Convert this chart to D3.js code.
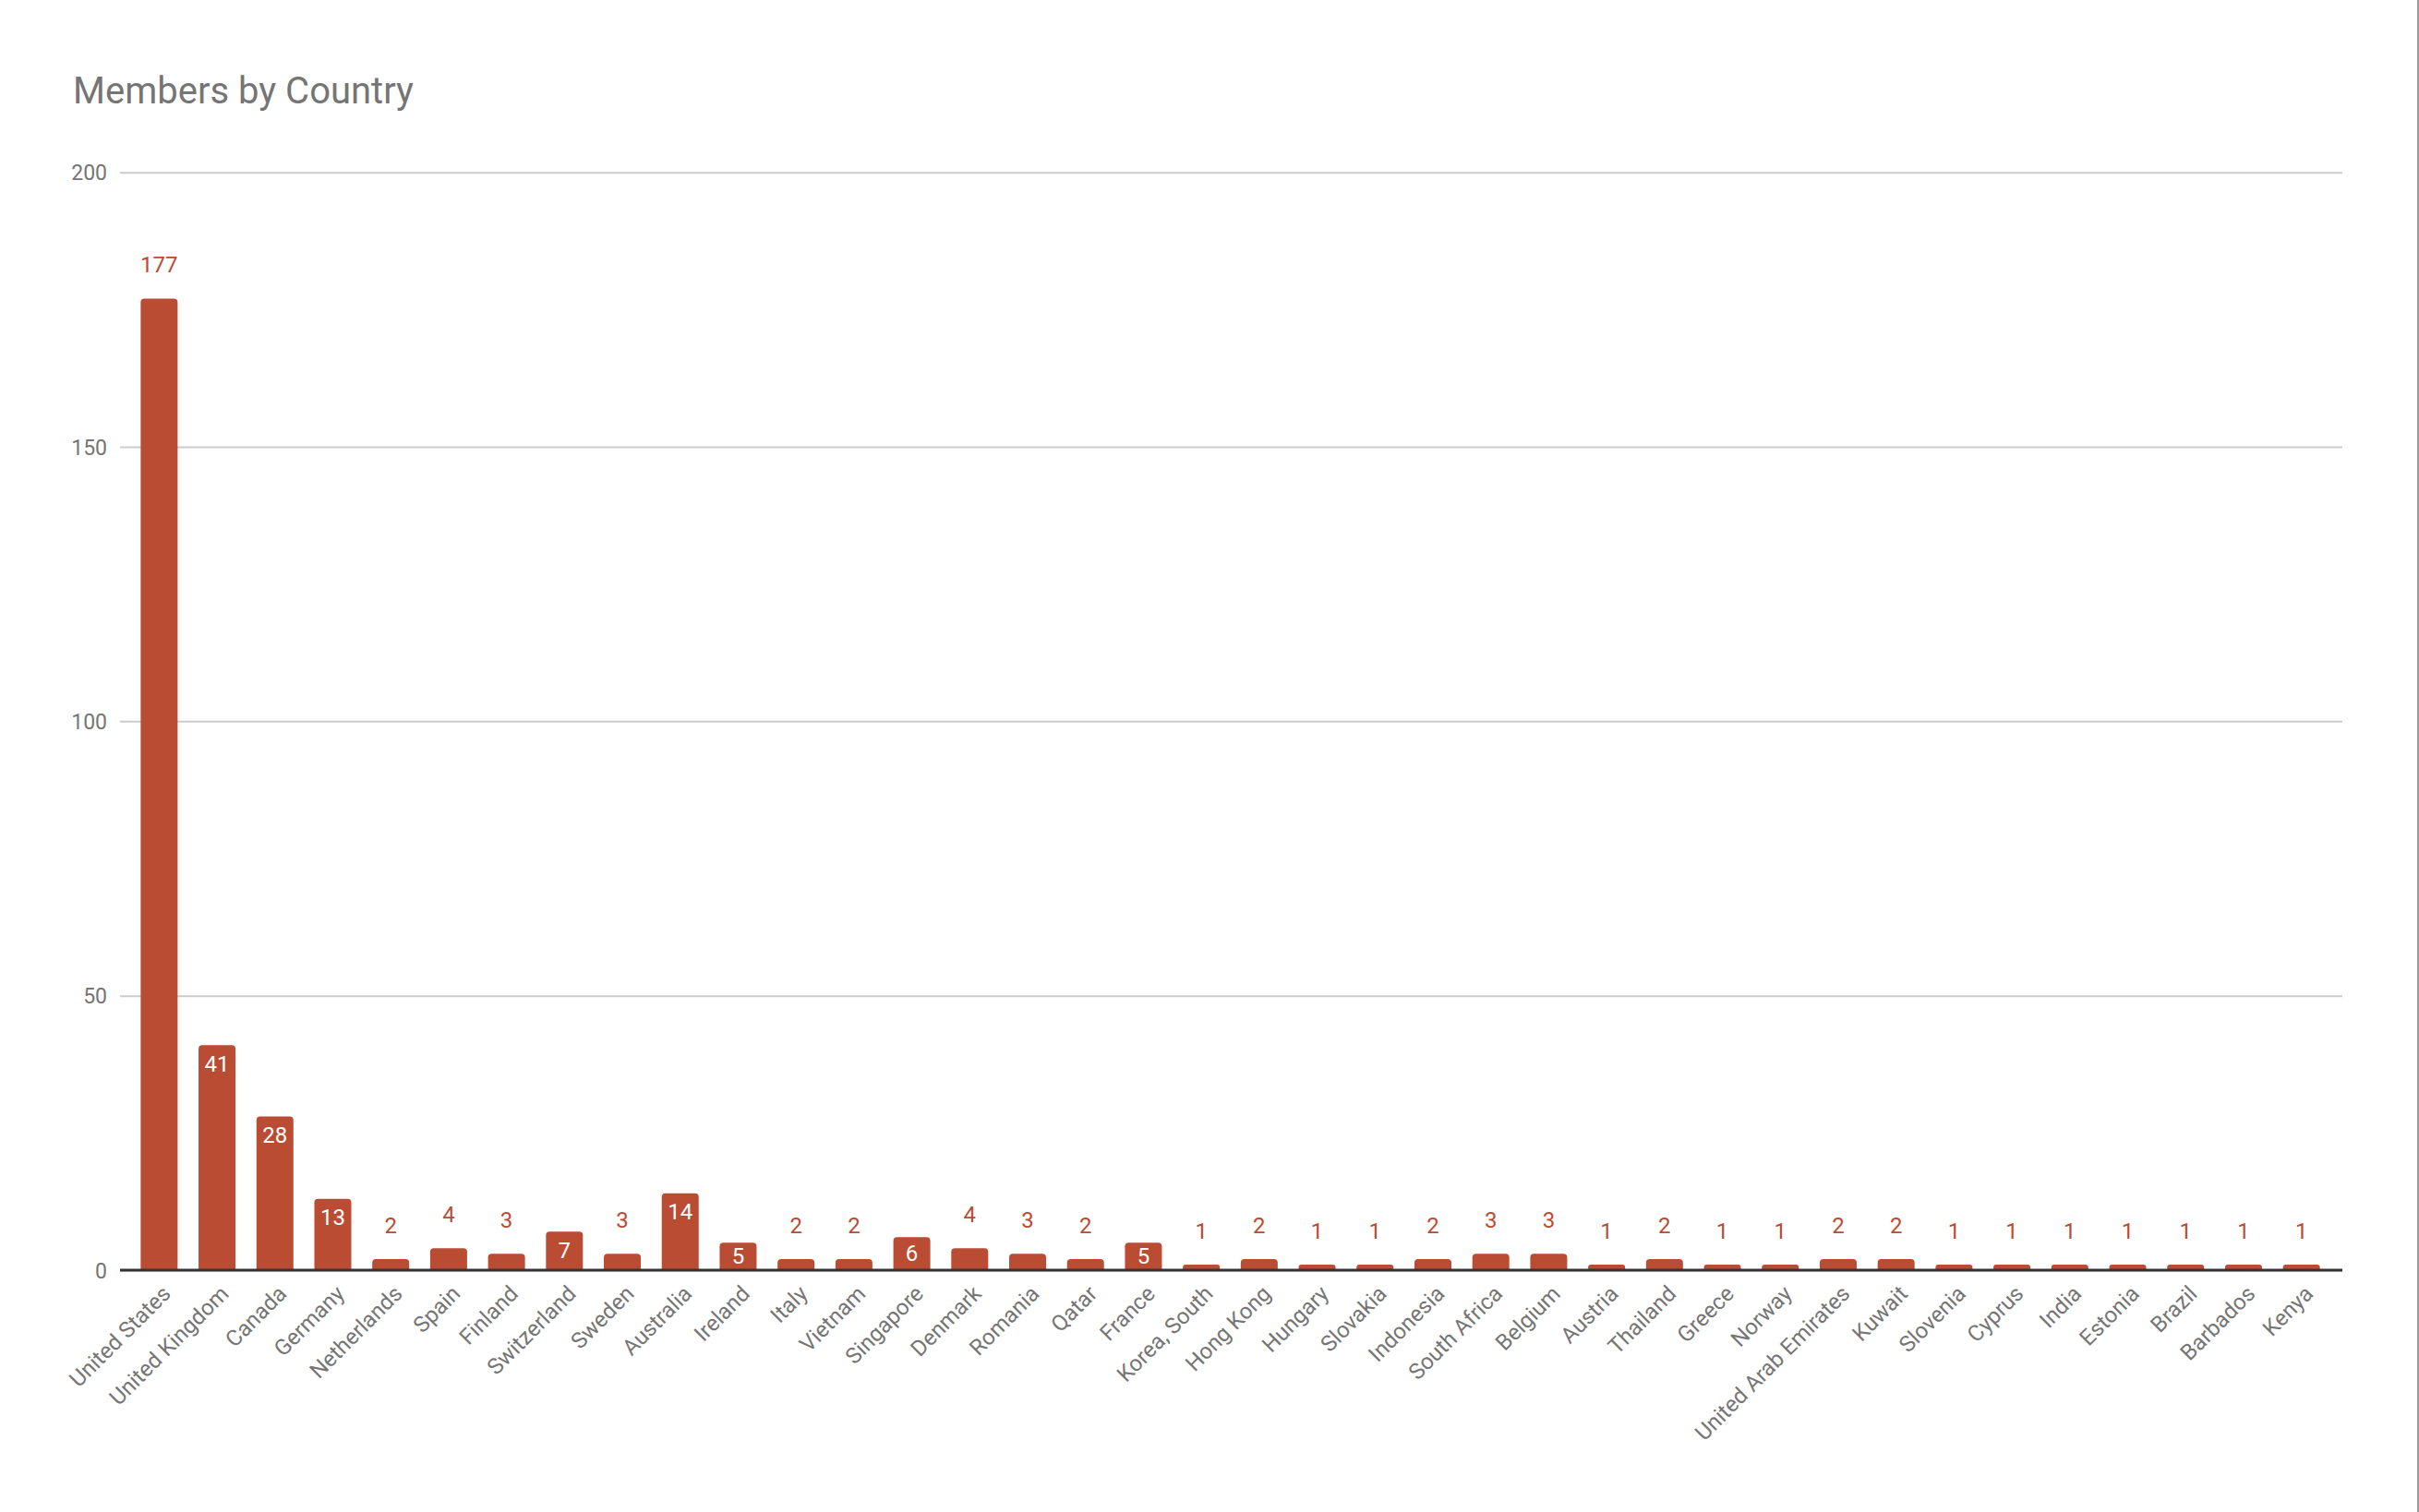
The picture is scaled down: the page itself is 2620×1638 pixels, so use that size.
<!DOCTYPE html>
<html lang="en">
<head>
  <meta charset="UTF-8">
  <title>Members by Country</title>
  <script src="https://d3js.org/d3.v7.min.js"></script>
  <style>
    html, body { margin: 0; padding: 0; background: #fff; }
    svg { font-family: Roboto, "Noto Sans", sans-serif; display: block; }
  </style>
</head>
<body>
  <svg width="2620" height="1638"></svg>

  <script>
    // Data
    const countries = [
      "United States", "United Kingdom", "Canada", "Germany", "Netherlands",
      "Spain", "Finland", "Switzerland", "Sweden", "Australia", "Ireland",
      "Italy", "Vietnam", "Singapore", "Denmark", "Romania", "Qatar", "France",
      "Korea, South", "Hong Kong", "Hungary", "Slovakia", "Indonesia",
      "South Africa", "Belgium", "Austria", "Thailand", "Greece", "Norway",
      "United Arab Emirates", "Kuwait", "Slovenia", "Cyprus", "India",
      "Estonia", "Brazil", "Barbados", "Kenya"
    ];
    const members = [
      177, 41, 28, 13, 2,
      4, 3, 7, 3, 14, 5,
      2, 2, 6, 4, 3, 2, 5,
      1, 2, 1, 1, 2,
      3, 3, 1, 2, 1, 1,
      2, 2, 1, 1, 1,
      1, 1, 1, 1
    ];
    const yTicks = [0, 50, 100, 150, 200];
    const chartTitle = "Members by Country";

    const data = countries.map((c, i) => ({ country: c, value: members[i] }));

    const svg = d3.select("svg");
    const barColor = "#ba4c33";
    const textGrey = "#757575";

    const plotLeft = 130, plotRight = 2537;
    const x = d3.scaleBand()
                .domain(countries)
                .range([141, 2524])
                .paddingInner(0.362)
                .paddingOuter(0.181);

    const y = d3.scaleLinear()
                .domain([0, 200])
                .range([1376, 186.7]);

    // Title
    svg.append("text")
       .attr("x", 79)
       .attr("y", 112)
       .attr("fill", textGrey)
       .style("font-size", "40px")
       .text(chartTitle);

    // Gridlines + y labels
    const yAxis = svg.append("g")
                     .attr("transform", `translate(${plotLeft},0)`)
                     .call(d3.axisLeft(y)
                             .tickValues(yTicks)
                             .tickSize(-(plotRight - plotLeft))
                             .tickPadding(14));
    yAxis.select(".domain").remove();
    yAxis.selectAll("line").attr("stroke", "#cccccc").attr("stroke-width", 2);
    yAxis.selectAll("text")
         .attr("fill", textGrey)
         .attr("dy", "0.35em")
         .style("font-size", "23px")
         .style("font-family", "Roboto, sans-serif");

    // Bars with slightly rounded tops
    function barPath(d) {
      const x0 = x(d.country), w = x.bandwidth();
      const top = y(d.value), base = y(0);
      const r = Math.min(4, (base - top) / 2);
      return `M${x0},${base}V${top + r}Q${x0},${top} ${x0 + r},${top}` +
             `H${x0 + w - r}Q${x0 + w},${top} ${x0 + w},${top + r}V${base}Z`;
    }

    svg.selectAll(".bar")
       .data(data)
       .enter()
       .append("path")
       .attr("class", "bar")
       .attr("d", barPath)
       .attr("fill", barColor);

    // Baseline
    svg.append("line")
       .attr("x1", plotLeft).attr("x2", plotRight)
       .attr("y1", y(0)).attr("y2", y(0))
       .attr("stroke", "#333333")
       .attr("stroke-width", 3);

    // Value labels: inside (white) for mid-sized bars, above otherwise
    const inside = d => d.value >= 5 && d.value < 100;
    const insideY = d => Math.min(y(d.value) + 28.5, (y(d.value) + y(0)) / 2 + 8);
    svg.selectAll(".val")
       .data(data)
       .enter()
       .append("text")
       .attr("class", "val")
       .attr("x", d => x(d.country) + x.bandwidth() / 2)
       .attr("y", d => inside(d) ? insideY(d) : y(d.value) - 28)
       .attr("text-anchor", "middle")
       .attr("fill", d => inside(d) ? "#ffffff" : barColor)
       .style("font-size", "24px")
       .text(d => d.value);

    // Category labels, rotated
    svg.selectAll(".cat")
       .data(data)
       .enter()
       .append("text")
       .attr("class", "cat")
       .attr("transform", d =>
         `translate(${x(d.country) + x.bandwidth() / 2 + 14},${y(0) + 27}) rotate(-45)`)
       .attr("text-anchor", "end")
       .attr("fill", textGrey)
       .style("font-size", "24px")
       .text(d => d.country);

    // Panel edge on the right
    svg.append("line")
       .attr("x1", 2619).attr("x2", 2619)
       .attr("y1", 0).attr("y2", 1638)
       .attr("stroke", "#999999")
       .attr("stroke-width", 2);
  </script>
</body>
</html>
